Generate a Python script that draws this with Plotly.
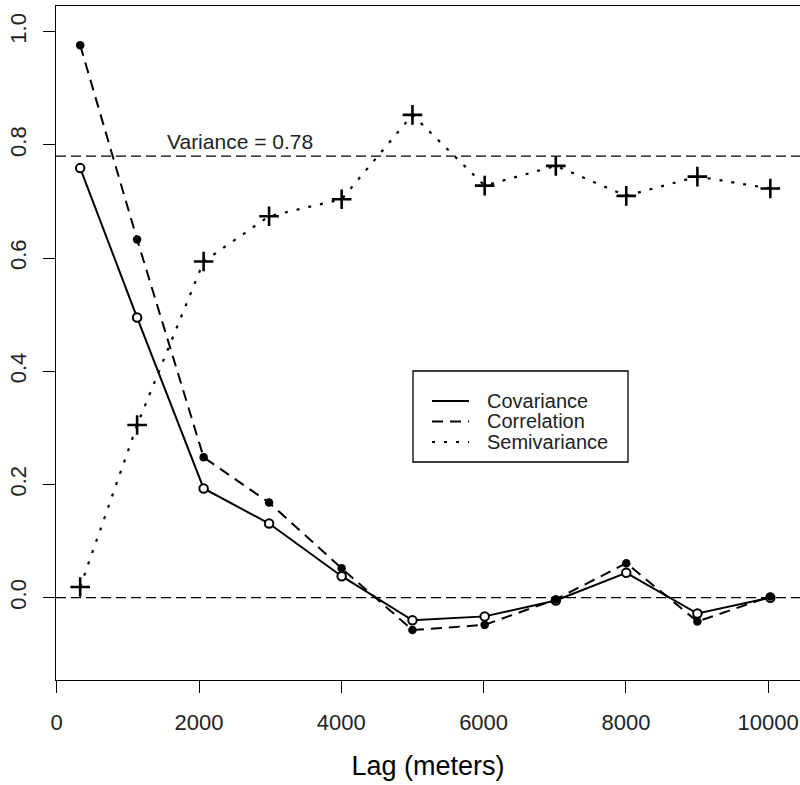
import plotly.graph_objects as go

lag = [330, 1130, 2065, 2985, 4005, 5000, 6015, 7015, 8005, 9005, 10030]
covariance = [0.759, 0.495, 0.193, 0.131, 0.038, -0.040, -0.033, -0.005, 0.044, -0.028, 0.000]
correlation = [0.976, 0.633, 0.248, 0.168, 0.052, -0.057, -0.048, -0.003, 0.061, -0.042, 0.002]
semivariance = [0.019, 0.305, 0.594, 0.674, 0.704, 0.853, 0.728, 0.763, 0.710, 0.744, 0.723]
variance = 0.78
y_ticks = [0.0, 0.2, 0.4, 0.6, 0.8, 1.0]
x_ticks = [0, 2000, 4000, 6000, 8000, 10000]
series_names = ["Covariance", "Correlation", "Semivariance"]

FONT = "Liberation Sans, Arial, sans-serif"
INK = "#000000"
TXT = "#222222"

# plot area in pixels (for paper-coordinate conversion of the legend)
L, R, T, B = 56, 800, 6, 680
def px(xp):
    return (xp - L) / (R - L)
def py(yp):
    return (B - yp) / (B - T)

line_styles = [
    dict(color=INK, width=2),
    dict(color=INK, width=2, dash="11px,7px"),
    dict(color=INK, width=2.2, dash="3px,9px"),
]
series_values = [covariance, correlation, semivariance]

fig = go.Figure()

# reference lines
fig.add_hline(y=0, line=dict(color=INK, width=1.3, dash="10px,5px"), layer="below")
fig.add_hline(y=variance, line=dict(color=INK, width=1.3, dash="10px,5px"), layer="below")

for name, vals, st in zip(series_names, series_values, line_styles):
    fig.add_trace(go.Scatter(x=lag, y=vals, mode="lines", name=name, line=st,
                             showlegend=False))

# markers
fig.add_trace(go.Scatter(x=lag, y=covariance, mode="markers", showlegend=False,
                         marker=dict(symbol="circle", size=8.5, color="white",
                                     line=dict(color=INK, width=2))))
fig.add_trace(go.Scatter(x=lag, y=correlation, mode="markers", showlegend=False,
                         marker=dict(symbol="circle", size=8.5, color=INK,
                                     line=dict(color=INK, width=0))))
fig.add_trace(go.Scatter(x=lag, y=semivariance, mode="markers", showlegend=False,
                         marker=dict(symbol="cross-thin", size=14,
                                     line=dict(color=INK, width=2.6))))

fig.add_annotation(x=1520, y=variance, xref="x", yref="y", text="Variance = " + str(variance),
                   showarrow=False, xanchor="left", yanchor="bottom", yshift=1,
                   font=dict(family=FONT, size=21, color=TXT))

# legend (box, samples, labels)
fig.add_shape(type="rect", xref="paper", yref="paper",
              x0=px(413), x1=px(628), y0=py(462), y1=py(371),
              line=dict(color=INK, width=1.3), fillcolor="white", layer="below")
for i, (name, st) in enumerate(zip(series_names, line_styles)):
    yy = 401 + 20.5 * i
    fig.add_shape(type="line", xref="paper", yref="paper",
                  x0=px(432), x1=px(469), y0=py(yy), y1=py(yy), line=st)
    fig.add_annotation(x=px(486), y=py(yy), xref="paper", yref="paper", text=name,
                       showarrow=False, xanchor="left", yanchor="middle", borderpad=0,
                       font=dict(family=FONT, size=20, color=TXT))

fig.update_layout(
    width=800, height=785,
    margin=dict(l=L, r=0, t=T, b=785 - B),
    paper_bgcolor="white", plot_bgcolor="white",
    font=dict(family=FONT, color=TXT),
    showlegend=False,
    xaxis=dict(range=[-10, 10447], tickvals=x_ticks, ticktext=[str(v) for v in x_ticks],
               showgrid=False, zeroline=False, showline=True, linecolor=INK, linewidth=1.3,
               mirror=True, ticks="outside", ticklen=12, tickwidth=1.3, tickcolor=INK,
               tickfont=dict(family=FONT, size=22, color=TXT), ticklabelstandoff=10,
               title=dict(text="Lag (meters)", font=dict(family=FONT, size=27, color=INK),
                          standoff=22)),
    yaxis=dict(range=[-0.1454, 1.0454], tickvals=y_ticks, ticktext=[f"{v:.1f}" for v in y_ticks],
               showgrid=False, zeroline=False, showline=True, linecolor=INK, linewidth=1.3,
               mirror=False, ticks="outside", ticklen=12, tickwidth=1.3, tickcolor=INK,
               tickangle=-90, tickfont=dict(family=FONT, size=22, color=TXT),
               ticklabelstandoff=8),
)

fig.write_html("out.html")
